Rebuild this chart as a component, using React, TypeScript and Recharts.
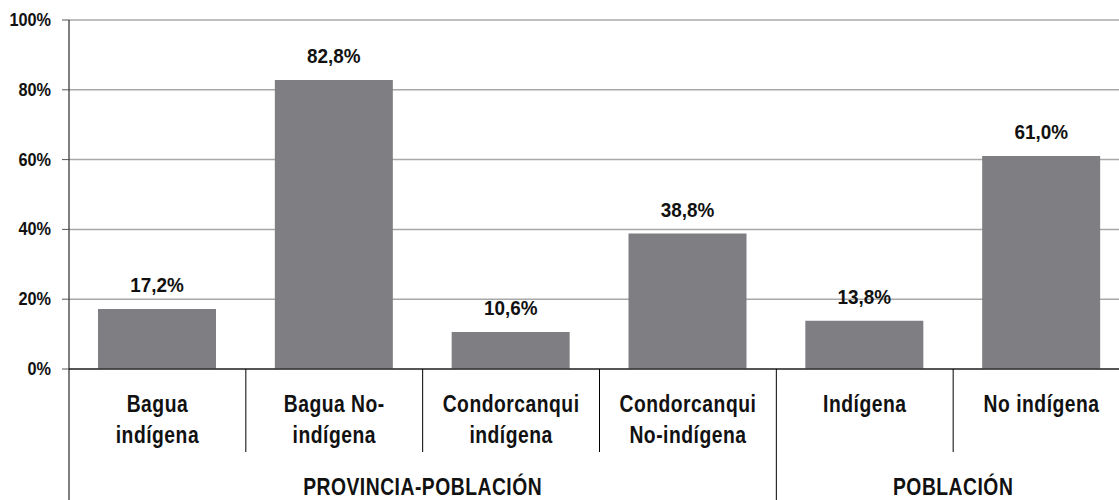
import { BarChart, Bar, XAxis, YAxis, CartesianGrid, LabelList } from 'recharts';

const categories = [
  ['Bagua', 'indígena'],
  ['Bagua No-', 'indígena'],
  ['Condorcanqui', 'indígena'],
  ['Condorcanqui', 'No-indígena'],
  ['Indígena'],
  ['No indígena'],
];
const values = [17.2, 82.8, 10.6, 38.8, 13.8, 61.0];
const groups = [
  { name: 'PROVINCIA-POBLACIÓN', size: 4 },
  { name: 'POBLACIÓN', size: 2 },
];
const yTicks = [0, 20, 40, 60, 80, 100];

const FONT = '"Liberation Sans", Arial, sans-serif';
const CHART_W = 1130;
const CHART_H = 500;
const Y_W = 69;
const BAND = (CHART_W - Y_W) / categories.length;

const data = categories.map((lines, i) => ({ key: `c${i}`, lines, value: values[i] }));

// group starts by category index
const groupStart: Record<number, { name: string; size: number }> = {};
let acc = 0;
groups.forEach((g) => {
  groupStart[acc] = g;
  acc += g.size;
});

// bold text squeezed sideways, to look like Arial Narrow
function Narrow({ x, y, size, sx, anchor = 'middle', spacing = 0, children }: any) {
  return (
    <text
      transform={`translate(${x},${y}) scale(${sx},1)`}
      textAnchor={anchor}
      fontFamily={FONT}
      fontWeight="bold"
      fontSize={size}
      letterSpacing={spacing}
      fill="#111"
    >
      {children}
    </text>
  );
}

function CategoryTick(props: any) {
  const { x, y, index } = props;
  const item = data[index];
  const left = x - BAND / 2;
  const g = groupStart[index];
  return (
    <g>
      {/* separator left of each category; group edges run to the bottom */}
      <line x1={left} x2={left} y1={y} y2={g ? CHART_H : y + 83} stroke="#000" strokeWidth={1} />
      {item.lines.map((t: string, k: number) => (
        <Narrow key={k} x={x} y={y + 43 + k * 31} size={23} sx={0.84} spacing={0.6}>
          {t}
        </Narrow>
      ))}
      {g && (
        <Narrow x={left + (BAND * g.size) / 2} y={y + 126} size={23} sx={0.84} spacing={0.6}>
          {g.name}
        </Narrow>
      )}
    </g>
  );
}

function PercentTick(props: any) {
  const { x, y, payload } = props;
  return (
    <Narrow x={x} y={y + 6} size={18.5} sx={0.88} anchor="end">
      {`${payload.value}%`}
    </Narrow>
  );
}

function ValueLabel(props: any) {
  const { x, y, width, value } = props;
  return (
    <Narrow x={x + width / 2} y={y - 17} size={21} sx={0.9}>
      {`${Number(value).toFixed(1).replace('.', ',')}%`}
    </Narrow>
  );
}

export default function App() {
  return (
    <div style={{ position: 'absolute', left: 0, top: 0, width: 1119, height: 500, overflow: 'hidden', background: '#fff' }}>
      <BarChart width={CHART_W} height={CHART_H} data={data} margin={{ top: 20, right: 0, bottom: 0, left: 0 }} barSize={118}>
        <CartesianGrid vertical={false} stroke="#a8a8a8" strokeWidth={1.5} />
        <XAxis
          dataKey="key"
          height={131}
          tickLine={false}
          tickSize={0}
          tickMargin={0}
          interval={0}
          axisLine={{ stroke: '#333', strokeWidth: 1.5 }}
          tick={<CategoryTick />}
        />
        <YAxis
          width={Y_W}
          domain={[0, 100]}
          ticks={yTicks}
          interval={0}
          axisLine={{ stroke: '#000', strokeWidth: 1 }}
          tickLine={{ stroke: '#555' }}
          tickSize={7}
          tickMargin={11}
          tick={<PercentTick />}
        />
        <Bar dataKey="value" fill="#7f7f83" isAnimationActive={false}>
          <LabelList dataKey="value" content={<ValueLabel />} />
        </Bar>
      </BarChart>
    </div>
  );
}
